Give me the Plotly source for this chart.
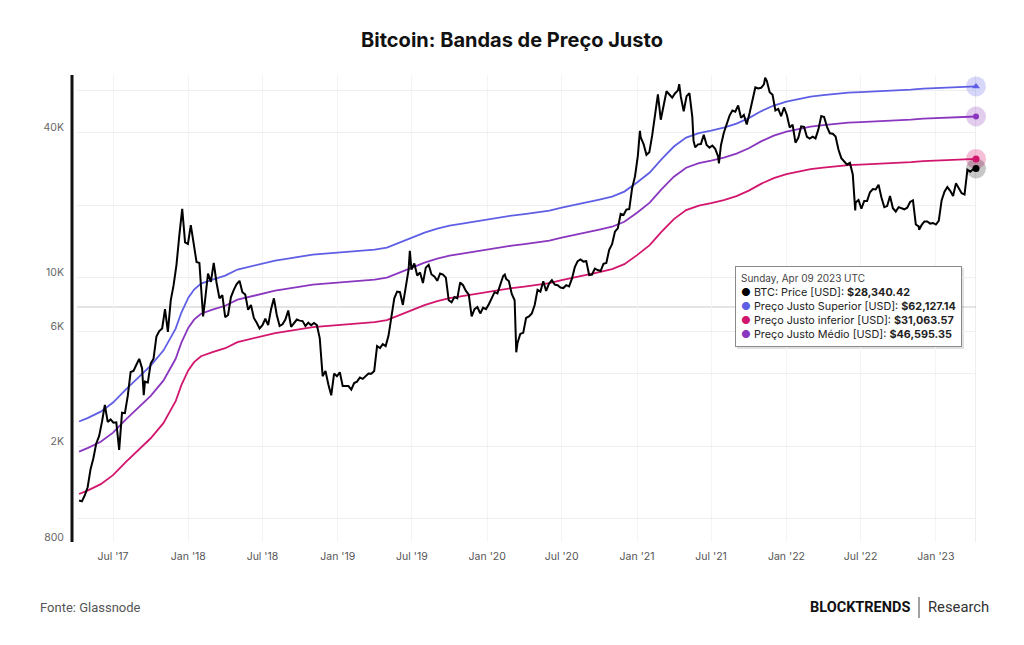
import math
import pandas as pd
import plotly.graph_objects as go

# ---------------- DATA ----------------
band_dates = [
    "2017-04-09", "2017-05-01", "2017-06-01", "2017-07-01", "2017-08-01", "2017-09-01",
    "2017-10-01", "2017-11-01", "2017-12-01", "2017-12-15",
    "2018-01-01", "2018-01-15", "2018-02-01", "2018-03-01", "2018-04-01", "2018-05-01",
    "2018-06-01", "2018-07-01", "2018-08-01", "2018-09-01", "2018-10-01", "2018-11-01", "2018-12-01",
    "2019-01-01", "2019-02-01", "2019-03-01", "2019-04-01", "2019-05-01", "2019-06-01",
    "2019-07-01", "2019-08-01", "2019-09-01", "2019-10-01", "2019-11-01", "2019-12-01",
    "2020-01-01", "2020-02-01", "2020-03-01", "2020-04-01", "2020-05-01", "2020-06-01",
    "2020-07-01", "2020-08-01", "2020-09-01", "2020-10-01", "2020-11-01", "2020-12-01",
    "2021-01-01", "2021-02-01", "2021-03-01", "2021-04-01", "2021-05-01", "2021-06-01",
    "2021-07-01", "2021-08-01", "2021-09-01", "2021-10-01", "2021-11-01", "2021-12-01",
    "2022-01-01", "2022-02-01", "2022-03-01", "2022-04-01", "2022-05-01", "2022-06-01",
    "2022-07-01", "2022-08-01", "2022-09-01", "2022-10-01", "2022-11-01", "2022-12-01",
    "2023-01-01", "2023-02-01", "2023-03-01", "2023-04-01", "2023-04-09",
]
band_superior = [
    2530, 2620, 2780, 3030, 3430, 3850, 4310, 4980, 6140, 7160,
    8260, 8920, 9440, 9810, 10190, 10800, 11110, 11430, 11770, 11990, 12230, 12460, 12580,
    12700, 12820, 12940, 13070, 13320, 13970, 14660, 15370, 15970, 16440, 16750, 17080,
    17400, 17740, 18090, 18350, 18610, 18970, 19520, 19990, 20470, 21070, 21680, 22740,
    24790, 27270, 30880, 34970, 38100, 39780, 40740, 41930, 43550, 45890, 49080, 51730,
    53740, 55300, 56360, 57180, 58010, 58560, 58850, 59130, 59700, 59980, 60270, 60850,
    61140, 61440, 61730, 62030, 62127.14,
]
band_medio = [
    1898, 1965, 2085, 2273, 2573, 2888, 3233, 3735, 4605, 5370,
    6195, 6690, 7080, 7358, 7643, 8100, 8333, 8573, 8828, 8993, 9173, 9345, 9435,
    9525, 9615, 9705, 9803, 9990, 10478, 10995, 11528, 11978, 12330, 12563, 12810,
    13050, 13305, 13568, 13763, 13958, 14228, 14640, 14993, 15353, 15803, 16260, 17055,
    18593, 20453, 23160, 26228, 28575, 29835, 30555, 31448, 32663, 34418, 36810, 38798,
    40305, 41475, 42270, 42885, 43508, 43920, 44138, 44348, 44775, 44985, 45203, 45638,
    45855, 46080, 46298, 46523, 46595.35,
]
band_inferior = [
    1265, 1310, 1390, 1515, 1715, 1925, 2155, 2490, 3070, 3580,
    4130, 4460, 4720, 4905, 5095, 5400, 5555, 5715, 5885, 5995, 6115, 6230, 6290,
    6350, 6410, 6470, 6535, 6660, 6985, 7330, 7685, 7985, 8220, 8375, 8540,
    8700, 8870, 9045, 9175, 9305, 9485, 9760, 9995, 10235, 10535, 10840, 11370,
    12395, 13635, 15440, 17485, 19050, 19890, 20370, 20965, 21775, 22945, 24540, 25865,
    26870, 27650, 28180, 28590, 29005, 29280, 29425, 29565, 29850, 29990, 30135, 30425,
    30570, 30720, 30865, 31015, 31063.57,
]

# BTC weekly (Sunday) prices, one list per year, with the first Sunday of each list
btc_2017_start = "2017-04-09"
btc_2017 = [
    1190, 1180, 1250, 1350, 1600, 1780, 2050, 2200, 2520, 2960, 2520, 2580,
    2500, 2510, 1930, 2750, 2740, 3230, 4060, 4100, 4350, 4600, 4200, 3700, 3670,
    4400, 4610, 5700, 6000, 6150, 7400, 5950, 8050, 9300, 11300, 15000, 19300, 14000, 13800,
]
btc_2018_start = "2018-01-07"
btc_2018 = [
    16500, 13600, 11600, 11500, 8200, 8100, 10400, 9600, 11500, 9500, 8200, 8450,
    6850, 7000, 8300, 8900, 9400, 9700, 8700, 8500, 7350, 7700, 6800, 6500, 6150,
    6350, 6750, 6350, 7400, 8200, 7000, 6300, 6400, 6700, 7300, 6250, 6500, 6700, 6630,
    6600, 6300, 6500, 6350, 6480, 6350, 5600, 3900, 4100, 3600, 3250, 4000, 3900,
]
btc_2019_start = "2019-01-06"
btc_2019 = [
    4050, 3550, 3550, 3550, 3430, 3650, 3700, 3850, 3800, 3900, 4000, 3990, 4100,
    5200, 5100, 5300, 5200, 5750, 7000, 8200, 8750, 8700, 7700, 8950, 10800, 10800,
    11450, 10200, 10500, 9500, 11000, 11300, 10300, 10100, 9700, 10400, 10300, 10000, 8050,
    7900, 8300, 8200, 9550, 9300, 8800, 8500, 6900, 7400, 7550, 7100, 7500, 7400,
]
btc_2020_start = "2020-01-05"
btc_2020 = [
    7750, 8200, 8700, 8600, 9350, 10150, 9900, 9650, 8550, 8050, 5350, 5850, 5900,
    6800, 6900, 7100, 7700, 8900, 8750, 9650, 8800, 9450, 9750, 9350, 9300, 9100,
    9050, 9300, 9200, 9900, 11050, 11700, 11900, 11650, 11700, 10250, 10300, 10900, 10750,
    10650, 11400, 11500, 13050, 13750, 15500, 16000, 18400, 18200, 19150, 19250, 23500, 26300,
]
btc_2021_start = "2021-01-03"
btc_2021 = [
    32000, 38200, 35800, 32300, 33100, 38900, 48600, 57500, 45200, 51200, 59300, 57500, 55800,
    58200, 59800, 56200, 49000, 56600, 58200, 46400, 34700, 35700, 35800, 39100, 35500, 34600,
    35300, 34200, 31800, 35400, 39900, 43800, 47000, 49300, 48800, 51800, 46000, 47300, 43200,
    48200, 54700, 61500, 60900, 61300, 63300, 65500, 58700, 57300, 49400, 50100, 46700, 50800,
]
btc_2022_start = "2022-01-02"
btc_2022 = [
    47300, 41900, 43100, 36300, 38000, 42400, 42200, 38400, 37700, 38400, 37800, 41200, 46800,
    46400, 42200, 39700, 39500, 38500, 34000, 31300, 30300, 29400, 29900, 26800, 20500, 21000,
    19300, 20800, 20800, 22600, 23300, 23200, 24300, 21500, 19600, 19800, 21800, 19400, 18800,
    19600, 19400, 19200, 19500, 20600, 20900, 16600, 16300, 16500, 17100, 17100, 16750, 16850,
]
btc_2023_start = "2023-01-01"
btc_2023 = [
    16600, 17200, 20900, 22700, 23750, 22900, 21800, 24600, 23500, 22400, 22100, 28000,
    27500, 28200, 28340.42,
]
# intra-week extremes visible in the chart
btc_extra_dates = ["2017-09-14", "2018-02-06", "2019-06-26", "2020-02-13", "2020-03-12",
                   "2021-01-08", "2021-04-14", "2021-05-19", "2021-07-20", "2021-11-10",
                   "2022-06-18", "2022-11-21"]
btc_extra_values = [3250, 6900, 12900, 10300, 4900,
                    40600, 63500, 37000, 29800, 67500,
                    19000, 15800]

x_tick_values = ["2017-07-01", "2018-01-01", "2018-07-01", "2019-01-01", "2019-07-01",
                 "2020-01-01", "2020-07-01", "2021-01-01", "2021-07-01", "2022-01-01",
                 "2022-07-01", "2023-01-01"]
x_tick_text = ["Jul '17", "Jan '18", "Jul '18", "Jan '19", "Jul '19", "Jan '20",
               "Jul '20", "Jan '21", "Jul '21", "Jan '22", "Jul '22", "Jan '23"]
y_tick_values = [800, 1000, 2000, 4000, 6000, 10000, 20000, 40000, 60000]
y_tick_text = ["800", "", "2K", "", "6K", "10K", "", "40K", ""]

hover_label = "Sunday, Apr 09 2023 UTC"

# ---------------- BUILD BTC SERIES ----------------
rows = []
for start, arr in [(btc_2017_start, btc_2017), (btc_2018_start, btc_2018),
                   (btc_2019_start, btc_2019), (btc_2020_start, btc_2020),
                   (btc_2021_start, btc_2021), (btc_2022_start, btc_2022),
                   (btc_2023_start, btc_2023)]:
    ds = pd.date_range(start, periods=len(arr), freq="7D")
    rows += list(zip(ds, arr))
rows += list(zip(pd.to_datetime(btc_extra_dates), btc_extra_values))
btc = pd.DataFrame(rows, columns=["date", "price"]).sort_values("date")

# ---------------- STYLE ----------------
W, H = 1024, 645
L, R, T, B = 77, 48, 75, 103
PW, PH = W - L - R, H - T - B

def px_x(px):
    return (px - L) / PW

def px_y(py):
    return 1 - (py - T) / PH

C_BTC = "#000000"
C_SUP = "#5f5fe6"
C_MED = "#8a36bf"
C_INF = "#d3166d"

fig = go.Figure()
fig.add_trace(go.Scatter(x=band_dates, y=band_inferior, mode="lines",
                         line=dict(color=C_INF, width=1.8)))
fig.add_trace(go.Scatter(x=band_dates, y=band_medio, mode="lines",
                         line=dict(color=C_MED, width=1.8)))
fig.add_trace(go.Scatter(x=band_dates, y=band_superior, mode="lines",
                         line=dict(color=C_SUP, width=1.8)))
fig.add_trace(go.Scatter(x=btc["date"], y=btc["price"], mode="lines",
                         line=dict(color=C_BTC, width=2)))

# end-point markers with halos
ends = [
    (band_dates[-1], band_superior[-1], "rgba(95,95,230,0.25)", C_SUP, "triangle-up", 7),
    (band_dates[-1], band_medio[-1], "rgba(138,54,191,0.25)", C_MED, "circle", 6),
    (band_dates[-1], band_inferior[-1], "rgba(211,22,109,0.28)", C_INF, "circle", 7),
    (btc["date"].iloc[-1], btc["price"].iloc[-1], "rgba(0,0,0,0.22)", C_BTC, "circle", 7),
]
for xd, yv, halo, col, sym, sz in ends:
    fig.add_trace(go.Scatter(x=[xd], y=[yv], mode="markers", cliponaxis=False,
                             marker=dict(size=20, color=halo, line=dict(width=0))))
for xd, yv, halo, col, sym, sz in ends:
    fig.add_trace(go.Scatter(x=[xd], y=[yv], mode="markers", cliponaxis=False,
                             marker=dict(size=sz, color=col, symbol=sym, line=dict(width=0))))

# tooltip
def fmt(v):
    return "${:,.2f}".format(v)

tip = (
    f"<span style='color:#444;font-size:10px'>{hover_label}</span><br>"
    f"<span style='color:{C_BTC}'>●</span> BTC: Price [USD]: <b>{fmt(btc['price'].iloc[-1])}</b><br>"
    f"<span style='color:{C_SUP}'>●</span> Preço Justo Superior [USD]: <b>{fmt(band_superior[-1])}</b><br>"
    f"<span style='color:{C_INF}'>●</span> Preço Justo inferior [USD]: <b>{fmt(band_inferior[-1])}</b><br>"
    f"<span style='color:{C_MED}'>●</span> Preço Justo Médio [USD]: <b>{fmt(band_medio[-1])}</b>"
)

annotations = [
    dict(text=tip, xref="paper", yref="paper", x=px_x(735), y=px_y(266),
         xanchor="left", yanchor="top", align="left", showarrow=False,
         font=dict(family="Inter", size=10.8, color="#222"),
         bgcolor="white", bordercolor="#8a8a8a", borderwidth=1, borderpad=5),
    dict(text="Fonte: Glassnode", xref="paper", yref="paper", x=px_x(38), y=px_y(607),
         xanchor="left", yanchor="middle", showarrow=False,
         font=dict(family="Roboto", size=13, color="#555")),
    dict(text="<b>BLOCKTRENDS</b>", xref="paper", yref="paper", x=px_x(912), y=px_y(607),
         xanchor="right", yanchor="middle", showarrow=False,
         font=dict(family="Roboto", size=14.5, color="#111")),
    dict(text="Research", xref="paper", yref="paper", x=px_x(926), y=px_y(607),
         xanchor="left", yanchor="middle", showarrow=False,
         font=dict(family="Roboto", size=14.8, color="#333")),
]

shapes = [
    # thick left axis bar
    dict(type="line", xref="paper", yref="paper", x0=px_x(72), x1=px_x(72), y0=0, y1=1,
         line=dict(color="#111", width=3)),
    # vertical hover line
    dict(type="line", xref="x", yref="paper", x0=band_dates[-1], x1=band_dates[-1], y0=0, y1=1,
         line=dict(color="#dcdcdc", width=1), layer="below"),
    # horizontal hover line
    dict(type="line", xref="paper", yref="paper", x0=0, x1=1, y0=px_y(307), y1=px_y(307),
         line=dict(color="#c9c9c9", width=1), layer="below"),
    # tooltip shadow
    dict(type="rect", xref="paper", yref="paper", x0=px_x(737), x1=px_x(964),
         y0=px_y(349), y1=px_y(268), line=dict(width=0), fillcolor="rgba(0,0,0,0.12)",
         layer="below"),
    # footer separator
    dict(type="line", xref="paper", yref="paper", x0=px_x(919), x1=px_x(919),
         y0=px_y(597), y1=px_y(618), line=dict(color="#444", width=1)),
]

fig.update_layout(
    width=W, height=H,
    margin=dict(l=L, r=R, t=T, b=B, pad=0),
    paper_bgcolor="white", plot_bgcolor="white",
    showlegend=False, hovermode=False,
    title=dict(text="<b>Bitcoin: Bandas de Preço Justo</b>", x=0.5, xanchor="center",
               y=1 - 40 / H, yanchor="middle", yref="container",
               font=dict(family="Inter", size=20, color="#111")),
    font=dict(family="Inter"),
    annotations=annotations,
    shapes=shapes,
)
fig.update_xaxes(
    type="date", range=["2017-04-04", "2023-04-09"],
    tickvals=x_tick_values, ticktext=x_tick_text,
    tickfont=dict(family="Inter", size=10.5, color="#555"),
    showgrid=True, gridcolor="#f4f4f4", gridwidth=1,
    ticks="", ticklabelstandoff=6,
    showline=False, zeroline=False,
)
fig.update_yaxes(
    type="log", range=[math.log10(800), 4.8405],
    tickvals=y_tick_values, ticktext=y_tick_text,
    tickfont=dict(family="Inter", size=10.5, color="#666"),
    showgrid=True, gridcolor="#efefef", gridwidth=1,
    ticks="", ticklabelstandoff=12, ticklabelshift=-5,
    showline=False, zeroline=False,
)

fig.write_html("out.html")
